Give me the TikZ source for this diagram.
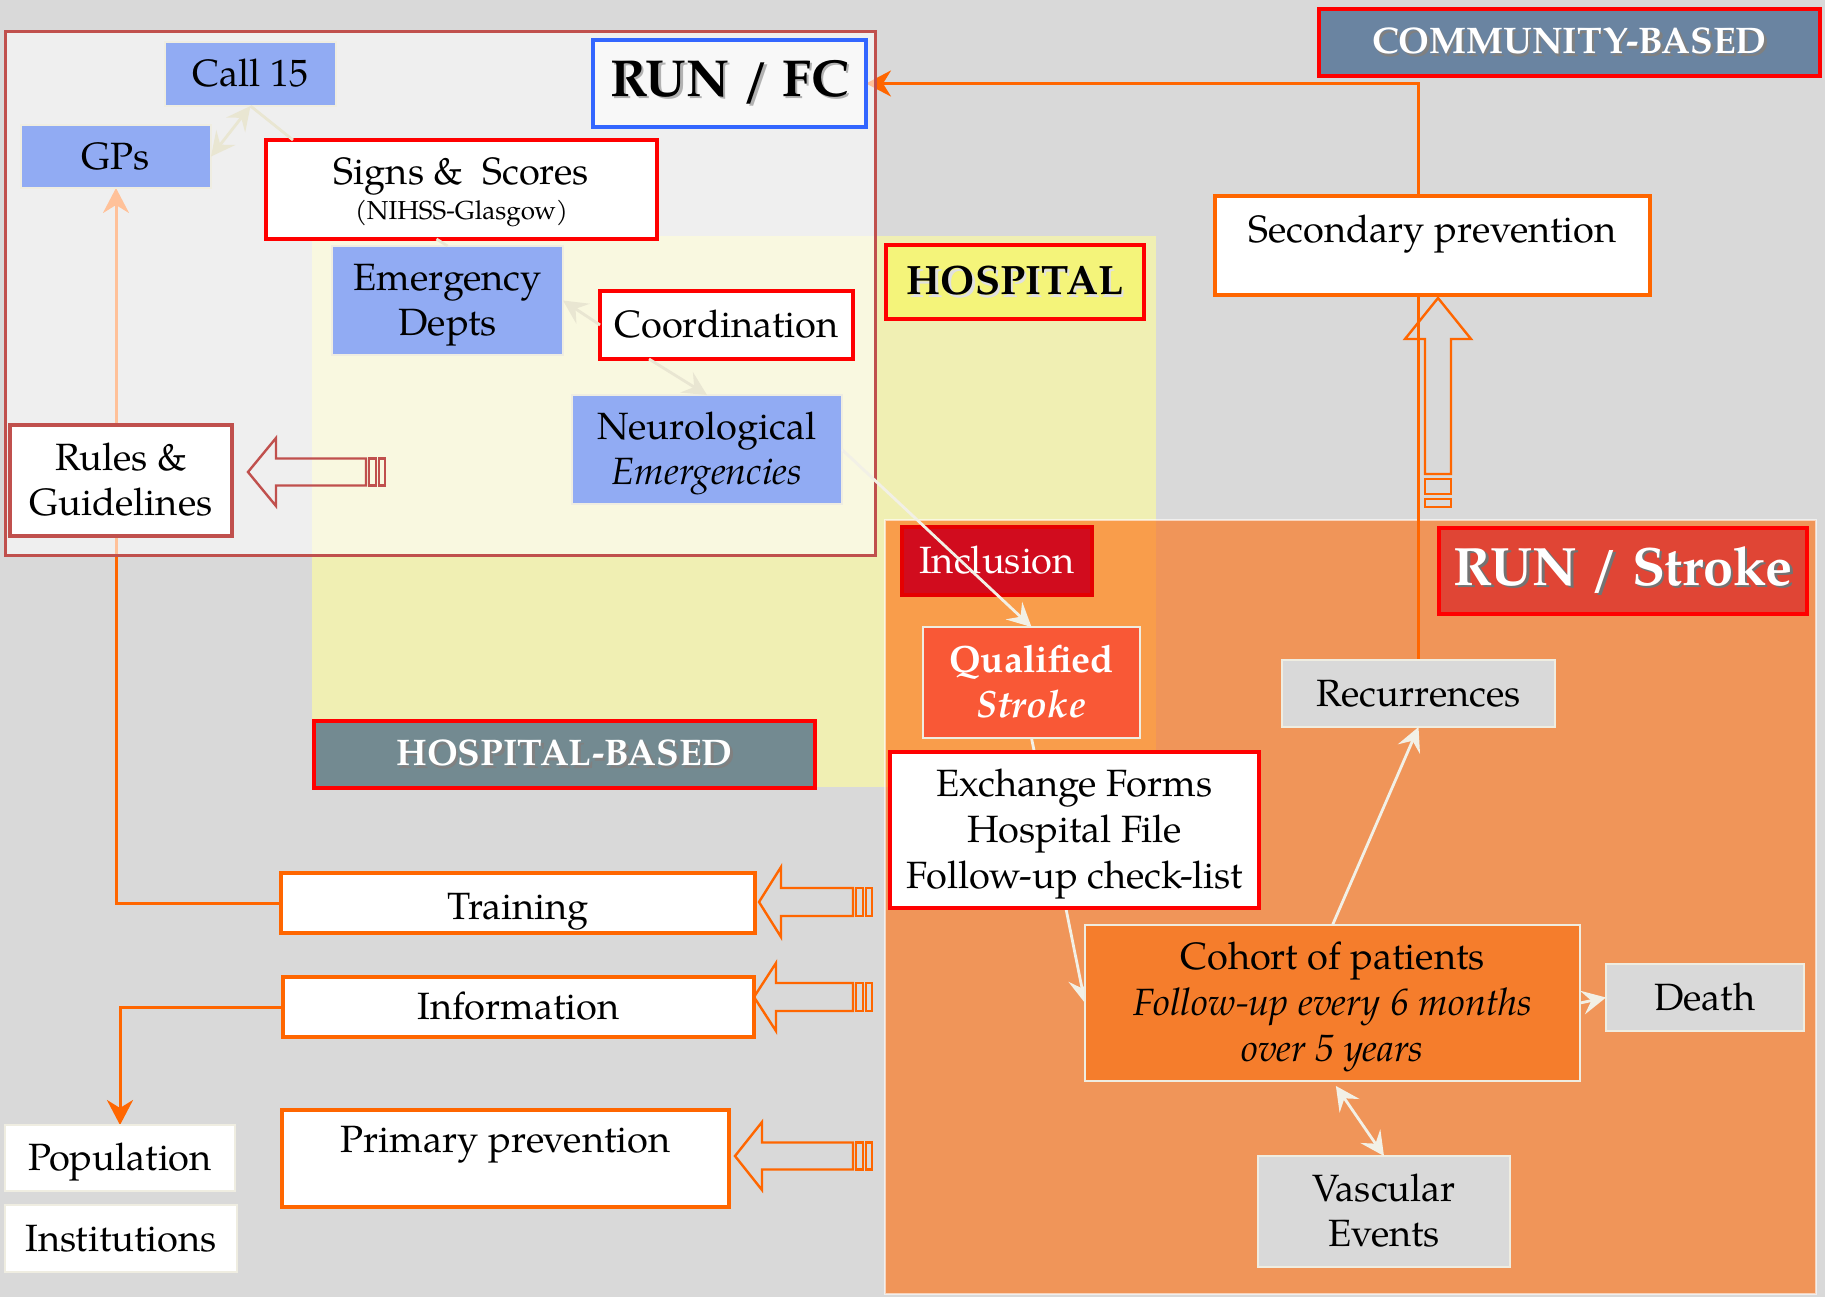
\documentclass[tikz,border=0pt]{standalone}
\usepackage{fontspec}
\setmainfont{TeX Gyre Pagella}
\usetikzlibrary{arrows.meta,calc}
\pgfdeclarelayer{bglayer}
\pgfdeclarelayer{connlayer}
\pgfdeclarelayer{framelayer}
\pgfsetlayers{bglayer,connlayer,framelayer,main}
\definecolor{bggray}{HTML}{D9D9D9}
\definecolor{hospyel}{HTML}{F0EFB3}
\definecolor{runorange}{HTML}{FF6A09}
\definecolor{framered}{HTML}{C0504D}
\definecolor{boxred}{HTML}{FF0000}
\definecolor{orng}{HTML}{FF6600}
\definecolor{bluefill}{HTML}{91ABF3}
\definecolor{lightedge}{HTML}{EFEDE1}
\definecolor{hospfill}{HTML}{F4F47A}
\definecolor{hbfill}{HTML}{738A91}
\definecolor{cbfill}{HTML}{6A84A1}
\definecolor{rsfill}{HTML}{E04535}
\definecolor{incfill}{HTML}{D10C1E}
\definecolor{qsfill}{HTML}{F95836}
\definecolor{cohfill}{HTML}{F57D2C}
\definecolor{connlight}{HTML}{F2F0E6}
\definecolor{connfaint}{HTML}{E9E6D2}
\definecolor{runfcfill}{HTML}{F8F8F8}
\definecolor{runfcblue}{HTML}{3366FF}
\newcommand\fm{\fontsize{19}{22.8}\selectfont}
\newcommand\shd[2]{\rlap{\kern1.3pt\raisebox{-1.3pt}{\color{#1}#2}}#2}
\newcommand\bx[7]{\node[#2,minimum width={(#5-#3)*0.5pt},minimum height={(#6-#4)*0.5pt}] (#1) at ({(#3+#5)/2},{(#4+#6)/2}) {#7};}
\newcommand\blockL[7]{%
 \draw[#1,line width=1.2pt,line join=miter] (#2,#3) -- (#4,#3-#5) -- (#4,#3-#6) -- (#7,#3-#6) -- (#7,#3+#6) -- (#4,#3+#6) -- (#4,#3+#5) -- cycle;
 \draw[#1,line width=1.2pt] (#7+3,#3-#6) rectangle (#7+10,#3+#6);
 \draw[#1,line width=1.2pt] (#7+13,#3-#6) rectangle (#7+19,#3+#6);}
\begin{document}
\begin{tikzpicture}[x=0.5pt,y=-0.5pt,
 base/.style={inner sep=0pt,outer sep=0pt,align=center,font=\fm,line width=1.6pt},
 body/.style={base,text height=13.5pt,text depth=1pt},
 two/.style={text height=36.3pt,text depth=1pt},
 three/.style={text height=59.1pt,text depth=1pt},
 bluebox/.style={body,fill=bluefill,draw=lightedge,line width=1pt},
 redbox/.style={body,fill=white,draw=boxred},
 orbox/.style={body,fill=white,draw=orng},
 graybox/.style={body,fill=bggray,draw=lightedge,line width=1.2pt},
 whitebox/.style={body,fill=white,draw=lightedge,line width=1.2pt},
 litearrow/.style={line width=1.4pt,-{Stealth[length=12pt,width=12pt,inset=4.5pt]}},
 litedouble/.style={line width=1.4pt,{Stealth[length=12pt,width=12pt,inset=4.5pt]}-{Stealth[length=12pt,width=12pt,inset=4.5pt]}},
 orline/.style={orng,line width=1.5pt},
 orarrow/.style={orline,-{Stealth[length=12.5pt,width=13pt,inset=4pt]}}
]
\useasboundingbox (0,0) rectangle (1825,1297);
\begin{pgfonlayer}{bglayer}
\fill[bggray] (0,0) rectangle (1825,1297);
\fill[hospyel] (312,236) rectangle (1156,787);
\fill[runorange,fill opacity=0.61] (885,520) rectangle (1816,1294);
\draw[white,opacity=0.6,line width=1pt] (885,520) rectangle (1816,1294);
\end{pgfonlayer}
\begin{pgfonlayer}{framelayer}
\fill[white,opacity=0.6] (5,31) rectangle (875,555);
\draw[framered,line width=1.5pt] (5,31) rectangle (875,555);
\end{pgfonlayer}
% nodes
\bx{Call15}{bluebox}{165}{42}{336}{106}{Call 15}
\bx{GPs}{bluebox}{21}{125}{211}{188}{GPs}
\bx{Signs}{redbox,text height=31.3pt,text depth=1.2pt}{266}{140}{657}{239}{Signs \& \ Scores\\[-5pt]{\fontsize{13}{15}\selectfont (NIHSS-Glasgow)}}
\bx{EmDepts}{bluebox,two}{332}{246}{563}{355}{Emergency\\Depts}
\bx{Coord}{redbox}{600}{291}{853}{359}{Coordination}
\bx{Neuro}{bluebox,two}{572}{395}{842}{504}{Neurological\\\textit{Emergencies}}
\bx{Rules}{body,two,fill=white,draw=framered}{10}{425}{232}{536}{Rules \&\\Guidelines}
\bx{RUNFC}{base,fill=runfcfill,draw=runfcblue,font=\fontsize{26}{30}\selectfont\bfseries}{593}{40}{866}{127}{\shd{black!30}{RUN / FC}}
\bx{HOSP}{base,fill=hospfill,draw=boxred,font=\fontsize{20.5}{24}\selectfont\bfseries}{886}{245}{1144}{319}{\shd{black!12}{HOSPITAL}}
\bx{COMM}{base,fill=cbfill,draw=boxred,text=white,font=\fontsize{18.5}{22}\selectfont\bfseries}{1319}{9}{1820}{76}{\shd{black!50}{COMMUNITY-BASED}}
\bx{HospBased}{base,fill=hbfill,draw=boxred,text=white,font=\fontsize{18.5}{22}\selectfont\bfseries}{314}{721}{815}{788}{\shd{black!50}{HOSPITAL-BASED}}
\bx{SecPrev}{orbox,text height=14pt,text depth=17.5pt}{1215}{196}{1650}{295}{Secondary prevention}
\bx{RUNS}{base,fill=rsfill,draw=boxred,text=white,font=\fontsize{27}{30}\selectfont\bfseries}{1439}{528}{1807}{614}{\shd{black!55}{RUN / Stroke}}
\bx{Incl}{body,fill=incfill,draw=red!90!black,text=white}{902}{527}{1092}{595}{Inclusion}
\bx{Qual}{body,two,fill=qsfill,draw=lightedge,line width=1.2pt,text=white}{923}{627}{1140}{738}{\textbf{Qualified}\\\textbf{\textit{Stroke}}}
\bx{Exch}{redbox,three}{890}{752}{1259}{908}{Exchange Forms\\Hospital File\\Follow-up check-list}
\bx{Recur}{graybox}{1282}{660}{1555}{727}{Recurrences}
\bx{Cohort}{body,three,fill=cohfill,draw=lightedge,line width=1.2pt}{1085}{925}{1580}{1081}{Cohort of patients\\\textit{Follow-up every 6 months}\\\textit{over 5 years}}
\bx{Death}{graybox}{1606}{964}{1804}{1031}{Death}
\bx{Vasc}{graybox,two}{1258}{1156}{1510}{1267}{Vascular\\Events}
\bx{Training}{orbox,text height=16.6pt,text depth=0.5pt}{281}{873}{755}{933}{Training}
\bx{Info}{orbox}{283}{977}{754}{1037}{Information}
\bx{Primary}{orbox,text height=14pt,text depth=20.5pt}{282}{1110}{729}{1207}{Primary prevention}
\bx{Pop}{whitebox}{5}{1125}{235}{1191}{Population}
\bx{Inst}{whitebox}{5}{1205}{237}{1272}{Institutions}
% block arrows
\blockL{framered}{248}{472}{276}{34}{13.5}{366}
\blockL{orng}{759}{902}{781}{35}{14}{853}
\blockL{orng}{754}{997}{776}{34}{14}{853}
\blockL{orng}{735}{1156}{762}{34}{13.5}{853}
\draw[orng,line width=1.2pt,line join=miter] (1438,298) -- (1471,339) -- (1451,339) -- (1451,474) -- (1425,474) -- (1425,339) -- (1405,339) -- cycle;
\draw[orng,line width=1.2pt] (1425,479) rectangle (1451,494);
\draw[orng,line width=1.2pt] (1425,499) rectangle (1451,507);
% connectors under frame
\begin{pgfonlayer}{connlayer}
\draw[orarrow] (Recur.north) |- (RUNFC.east);
\draw[orarrow] (GPs.south |- Rules.north) -- (GPs.south);
\draw[orline] (GPs.south |- Rules.south) |- (Training.west);
\draw[orarrow] (Info.west) -| (Pop.north);
\draw[litearrow,connlight] (Qual.south) -- (Cohort.west);
\end{pgfonlayer}
% light connectors
\draw[litedouble,connfaint] (Call15.south) -- (GPs.east);
\draw[connfaint,line width=1.4pt] (Call15.south) -- ($(Signs.north west)+(27,0)$);
\draw[connfaint,line width=1.4pt] ($(Signs.south)+(-25,0)$) -- (EmDepts.north);
\draw[litearrow,connfaint] (Coord.west) -- (EmDepts.east);
\draw[litearrow,connfaint] ($(Coord.south west)+(49,0)$) -- (Neuro.north);
\draw[litearrow,connlight] (Neuro.east) -- (Qual.north);
\draw[litearrow,connlight] (Cohort.north) -- (Recur.south);
\draw[litearrow,connlight] (Cohort.east) -- (Death.west);
\draw[litedouble,connlight,shorten <=3pt] (Cohort.south) -- (Vasc.north);
\end{tikzpicture}
\end{document}
